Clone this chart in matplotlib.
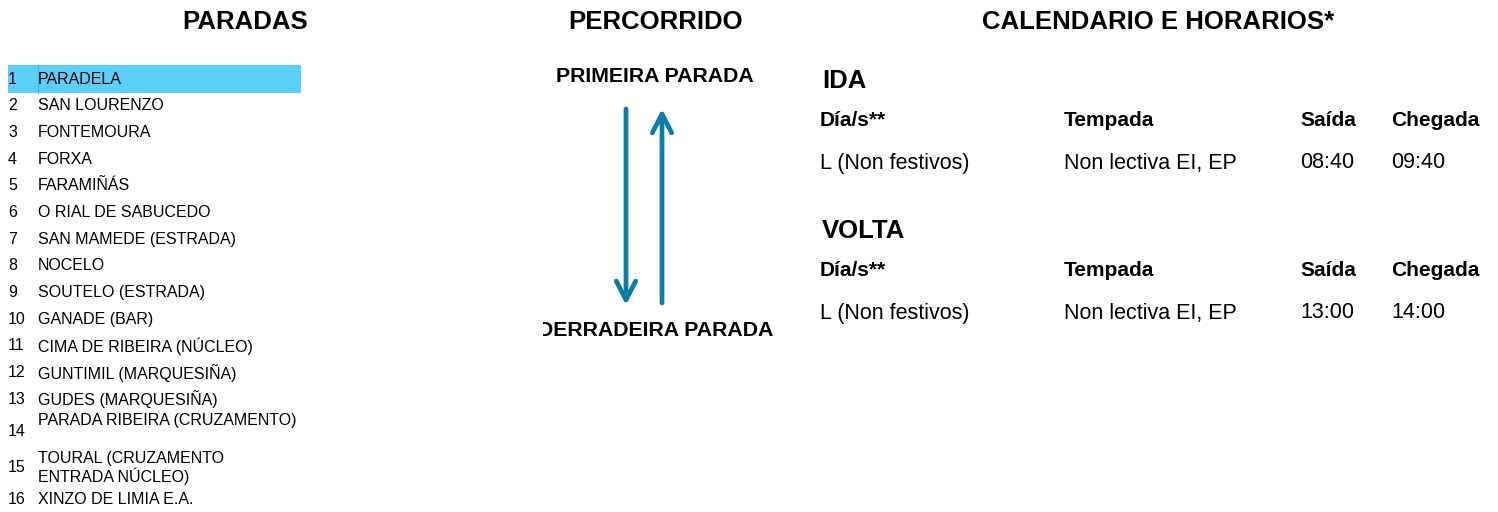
"""Folla de liña: paradas, percorrido e horarios (Paradela - Xinzo de Limia)."""
import matplotlib
matplotlib.use("Agg")
import matplotlib.pyplot as plt
from matplotlib.transforms import Bbox, TransformedBbox

plt.rcParams["font.family"] = ["Liberation Sans", "DejaVu Sans"]

BLUE = "#0b7ba7"
HILITE = "#5bcefa"

titles = ["PARADAS", "PERCORRIDO", "CALENDARIO E HORARIOS*"]

stop_nums = [str(i) for i in range(1, 17)]
stop_names = [
    "PARADELA", "SAN LOURENZO", "FONTEMOURA", "FORXA", "FARAMIÑÁS",
    "O RIAL DE SABUCEDO", "SAN MAMEDE (ESTRADA)", "NOCELO",
    "SOUTELO (ESTRADA)", "GANADE (BAR)", "CIMA DE RIBEIRA (NÚCLEO)",
    "GUNTIMIL (MARQUESIÑA)", "GUDES (MARQUESIÑA)",
    "PARADA RIBEIRA (CRUZAMENTO)", "TOURAL (CRUZAMENTO\nENTRADA NÚCLEO)",
    "XINZO DE LIMIA E.A.",
]
route_ends = ["PRIMEIRA PARADA", "DERRADEIRA PARADA"]

headers = ["Día/s**", "Tempada", "Saída", "Chegada"]
ida = ["L (Non festivos)", "Non lectiva EI, EP", "08:40", "09:40"]
volta = ["L (Non festivos)", "Non lectiva EI, EP", "13:00", "14:00"]

fig = plt.figure(figsize=(14.98, 5.12), dpi=100)
ax = fig.add_axes([0, 0, 1, 1])
ax.set_xlim(0, 1498)
ax.set_ylim(512, 0)
ax.axis("off")

# titulos das tres columnas
for x, t in zip([245, 656, 1158], titles):
    ax.text(x, 22, t, ha="center", va="center", fontsize=18.5, fontweight="bold")

# --- paradas ---
ax.add_patch(plt.Rectangle((8, 65), 293, 28, color=HILITE, lw=0))
ax.plot([37.5, 37.5], [65, 93], color="#3fb4e6", lw=0.8)
row_y = [79 + 26.7 * i for i in range(13)] + [426, 468, 499]
num_y = row_y[:13] + [432, 468, 499]
for i, (n, name) in enumerate(zip(stop_nums, stop_names)):
    ax.text(8, num_y[i], n, ha="left", va="center", fontsize=11.5)
    ny = 421 if i == 13 else row_y[i]
    ax.text(38, ny, name, ha="left", va="center", fontsize=11.5,
            linespacing=1.1)

# --- percorrido ---
ax.text(655, 76, route_ends[0], ha="center", va="center",
        fontsize=15.3, fontweight="bold")
t = ax.text(656, 331, route_ends[1], ha="center", va="center",
            fontsize=15.3, fontweight="bold")
# o texto sae cortado pola esquerda
t.set_clip_box(TransformedBbox(Bbox([[543, 0], [1498, 512]]), ax.transData))
t.set_clip_on(True)

arw = "->,head_length=1.35,head_width=0.7"
ax.annotate("", xy=(626, 305), xytext=(626, 109),
            arrowprops=dict(arrowstyle=arw, lw=3.4, color=BLUE,
                            shrinkA=0, shrinkB=0))
ax.annotate("", xy=(662, 109), xytext=(662, 303),
            arrowprops=dict(arrowstyle=arw, lw=3.4, color=BLUE,
                            shrinkA=0, shrinkB=0))

# --- calendario e horarios ---
col_x = [820, 1064, 1300, 1391]
for label, y0, row in [("IDA", 81, ida), ("VOLTA", 231, volta)]:
    ax.text(822, y0, label, ha="left", va="center", fontsize=18.5,
            fontweight="bold")
    for x, h in zip(col_x, headers):
        ax.text(x, y0 + 40, h, ha="left", va="center", fontsize=15,
                fontweight="bold")
    for x, v in zip(col_x, row):
        ax.text(x, y0 + 82, v, ha="left", va="center", fontsize=15.5)

fig.savefig("out.png", dpi=100)
